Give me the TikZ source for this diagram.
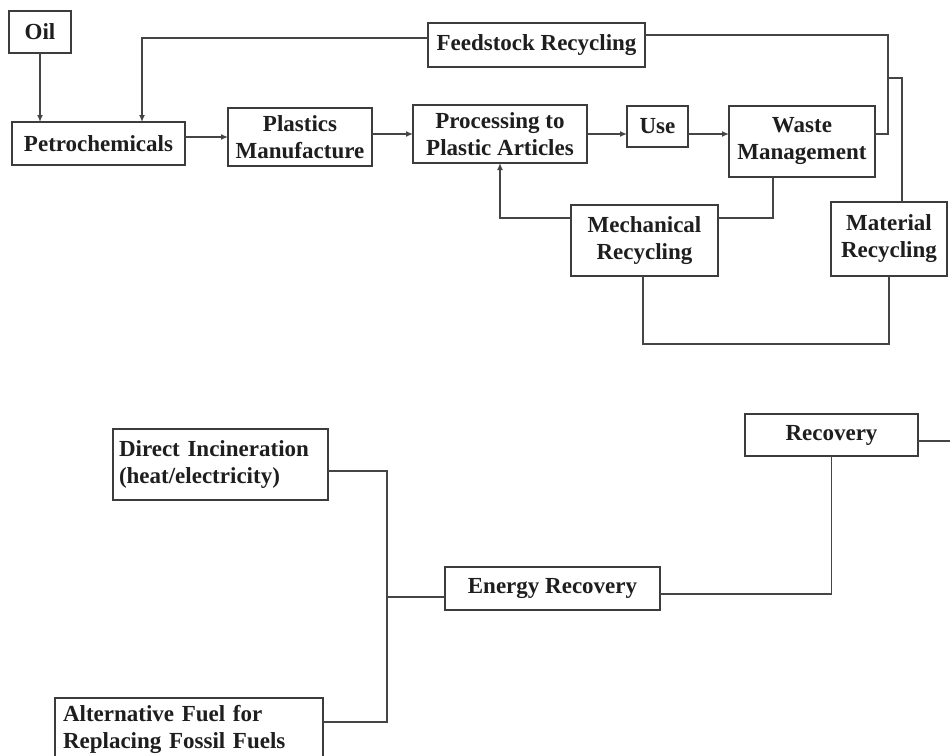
\documentclass[tikz,border=0pt]{standalone}
\usepackage{fontspec}
\setmainfont{Liberation Serif}
\usetikzlibrary{arrows.meta,calc}
\definecolor{boxc}{HTML}{3C3C3C}
\definecolor{linec}{HTML}{454545}
\definecolor{txtc}{HTML}{1E1E1E}
\begin{document}
\begin{tikzpicture}[x=1pt,y=-1pt,
  box/.style={draw=boxc, line width=1.8pt, inner sep=0pt, outer sep=0pt,
    font=\bfseries\fontsize{23}{27}\selectfont, text=txtc, align=center},
  conn/.style={draw=linec, line width=1.5pt},
  arr/.style={conn, -{Latex[length=7pt,width=6pt]}}]
\useasboundingbox (0,0) rectangle (950,755);
\clip (0,0) rectangle (950,755);
\fill[white] (0,0) rectangle (950,755);

% top flow
\node[box, minimum width=62pt, minimum height=42pt] (oil) at (40,32) {Oil};
\node[box, minimum width=173pt, minimum height=43pt] (petro) at (98.5,143.5) {Petrochemicals};
\node[box, minimum width=144pt, minimum height=58pt] (plast) at (300,137) {Plastics\\Manufacture};
\node[box, minimum width=174pt, minimum height=58pt] (proc) at (500,134) {Processing to\\Plastic Articles};
\node[box, minimum width=61pt, minimum height=41pt] (use) at (657.5,126.5) {Use};
\node[box, minimum width=146pt, minimum height=71pt] (waste) at (802,141.5) {Waste\\Management};
\node[box, minimum width=217pt, minimum height=44pt] (feed) at (536.5,45) {Feedstock Recycling};
\node[box, minimum width=147pt, minimum height=71pt] (mech) at (644.5,240.5) {Mechanical\\Recycling};
\node[box, minimum width=116pt, minimum height=74pt] (mat) at (889,239) {Material\\Recycling};

% bottom group
\node[box, minimum width=173pt, minimum height=42pt] (recov) at (831.5,435) {Recovery};
\node[box, minimum width=215pt, minimum height=43pt] (energy) at (552.5,588.5) {Energy Recovery};
\node[box, align=left, text width=203pt, minimum width=215pt, minimum height=71pt] (direct) at (220.5,464.5) {Direct Incineration\\(heat/electricity)};
\node[box, align=left, text width=252pt, minimum width=268pt, minimum height=62pt] (alt) at (189,729) {Alternative Fuel for\\Replacing Fossil Fuels};

% coordinates for free ends / junctions
\coordinate (fdrop) at (142,122);
\coordinate (jx) at (888,78);
\coordinate (redge) at (952,441);
\coordinate (ej) at (387,597);

% connectors, top
\draw[arr] (oil.south) -- (oil.south |- petro.north);
\draw[arr] ([yshift=7pt]feed.west) -| (fdrop);
\draw[arr] (petro.east |- plast.west) -- (plast.west);
\draw[arr] (plast.east |- proc.west) -- (proc.west);
\draw[arr] (proc.east) -- (use.west |- proc.east);
\draw[arr] (use.east |- proc.east) -- (waste.west |- proc.east);
\draw[conn] (waste.east |- proc.east) -| (jx) |- ([yshift=10pt]feed.east);
\draw[conn] ([xshift=13pt]mat.north) |- (jx);
\draw[conn] ([xshift=-29pt]waste.south) |- ([yshift=22.5pt]mech.east);
\draw[arr] ([yshift=22.5pt]mech.west) -| (proc.south);
\draw[conn] ([xshift=-1.5pt]mech.south) -- ++(0,68) -| (mat.south);

% connectors, bottom
\draw[conn] ([yshift=-6pt]recov.east) -- (redge);
\draw[conn] (recov.south) |- ([yshift=-5.5pt]energy.east);
\draw[conn] ([yshift=-8.5pt]energy.west) -- (ej);
\draw[conn] ([yshift=-6.5pt]direct.east) -| (ej) |- ([yshift=7pt]alt.east);
\end{tikzpicture}
\end{document}
